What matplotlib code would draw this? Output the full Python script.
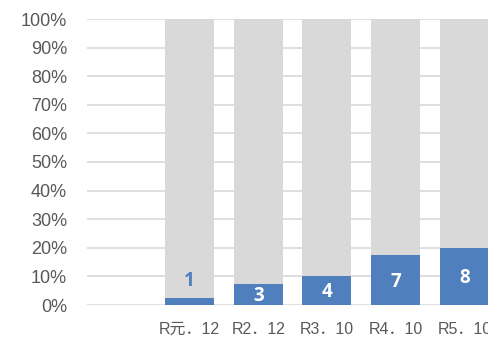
import matplotlib
matplotlib.use("Agg")
import matplotlib.pyplot as plt
import numpy as np

# Survey rounds (first slot is left empty on the axis)
categories = ["", "R元．12", "R2．12", "R3．10", "R4．10", "R5．10"]
counts = [0, 1, 3, 4, 7, 8]          # respondents answering "yes"
totals = [0, 40, 40, 40, 40, 40]     # respondents per round

counts = np.array(counts, dtype=float)
totals = np.array(totals, dtype=float)
share = np.divide(counts, totals, out=np.zeros_like(counts), where=totals > 0) * 100
rest = np.where(totals > 0, 100 - share, 0)

blue = "#4F7FBD"
grey = "#D9D9D9"
text_grey = "#595959"

fig = plt.figure(figsize=(4.88, 3.37), dpi=100)
ax = fig.add_axes([86.5 / 488, 32 / 337, 1 - 86.5 / 488, 286 / 337])

x = np.arange(len(categories))
width = 0.713
ax.bar(x, share, width=width, color=blue, zorder=3)
ax.bar(x, rest, width=width, bottom=share, color=grey, zorder=3)

# value labels
for xi, c, s in zip(x, counts, share):
    if totals[int(xi)] == 0:
        continue
    label = f"{int(c)}"
    if s < 5:
        ax.text(xi, s + 6, label, ha="center", va="center", color=blue,
                fontsize=13.5, fontweight="bold", family="Open Sans", zorder=4)
    else:
        ax.text(xi, s / 2 - 0.6, label, ha="center", va="center", color="white",
                fontsize=13.5, fontweight="bold", family="Open Sans", zorder=4)

ax.set_xlim(-0.5, (488 - 86.5) / 68.7 - 0.5)
ax.set_ylim(0, 100)
ax.set_yticks(np.arange(0, 101, 10))
ax.set_yticklabels([f"{v}%" for v in range(0, 101, 10)],
                   fontsize=13, color=text_grey, family="Liberation Sans")
ax.set_xticks(x)
ax.set_xticklabels(categories, fontsize=11.5, color=text_grey,
                   family=["Liberation Sans", "Noto Sans CJK JP"])

ax.yaxis.grid(True, color=grey, linewidth=1.2, zorder=0)
ax.set_axisbelow(True)
ax.tick_params(axis="y", length=0, pad=14)
ax.tick_params(axis="x", length=0, pad=12)
for sp in ax.spines.values():
    sp.set_visible(False)

fig.savefig("out.png", dpi=100)
